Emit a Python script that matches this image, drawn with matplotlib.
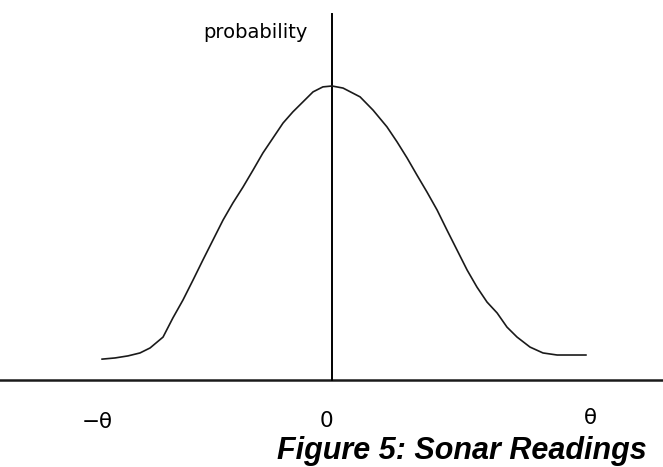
import matplotlib
matplotlib.use("Agg")
import matplotlib.pyplot as plt

# sonar beam response: angle (in units of theta) vs relative probability
angle = [-0.958, -0.904, -0.850, -0.800, -0.758, -0.704, -0.663, -0.621, -0.579,
         -0.538, -0.496, -0.454, -0.413, -0.371, -0.329, -0.288, -0.246, -0.204,
         -0.163, -0.121, -0.079, -0.038, 0.0, 0.046, 0.117, 0.171, 0.229, 0.271,
         0.313, 0.354, 0.396, 0.438, 0.479, 0.521, 0.563, 0.604, 0.646, 0.688,
         0.729, 0.771, 0.825, 0.879, 0.938, 0.992, 1.058]
probability = [0.071, 0.075, 0.082, 0.092, 0.109, 0.146, 0.211, 0.272, 0.340,
               0.408, 0.476, 0.544, 0.602, 0.656, 0.714, 0.772, 0.823, 0.874,
               0.912, 0.946, 0.980, 0.997, 1.0, 0.993, 0.963, 0.918, 0.861, 0.810,
               0.755, 0.697, 0.639, 0.578, 0.510, 0.442, 0.374, 0.316, 0.265,
               0.228, 0.180, 0.146, 0.112, 0.092, 0.085, 0.085, 0.085]

tick_pos = [-0.979, -0.025, 1.075]
tick_text = ["\u2212\u03b8", "0", "\u03b8"]
tick_y = [-0.142, -0.139, -0.129]

narrow = ["Liberation Sans Narrow", "DejaVu Sans Condensed", "DejaVu Sans"]

fig = plt.figure(figsize=(6.63, 4.67), dpi=100)
ax = fig.add_axes([0, 0, 1, 1])
ax.set_xlim(-332 / 240, 331 / 240)
ax.set_ylim(-87 / 294, 380 / 294)
ax.axis("off")

# axes drawn as plain lines
ax.axhline(0, color="#1a1a1a", lw=1.8)
ax.plot([0, 0], [0, 1.245], color="black", lw=1.4)

ax.plot(angle, probability, color="#1a1a1a", lw=1.2)

ax.text(-0.1, 1.163, "probability", ha="right", va="baseline", fontsize=14,
        family=narrow)

for pos, label, y in zip(tick_pos, tick_text, tick_y):
    ax.text(pos, y, label, ha="center", va="center", fontsize=15.5,
            family=narrow)

fig.text(647 / 663, 8 / 467, "Figure 5: Sonar Readings", ha="right",
         va="baseline", fontsize=22, fontweight="bold", fontstyle="italic",
         family="Liberation Sans")

fig.savefig("out.png", dpi=100, facecolor="white")
